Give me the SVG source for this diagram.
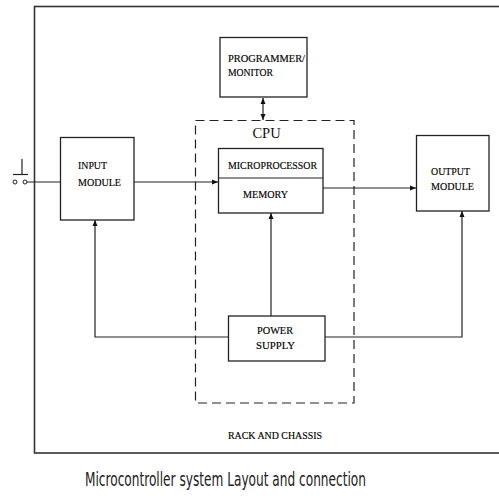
<svg xmlns="http://www.w3.org/2000/svg" width="499" height="496" viewBox="0 0 499 496">
<style>
.box{fill:#fff;stroke:#222;stroke-width:1.3}
.ln{fill:none;stroke:#222;stroke-width:1.2}
.t{font-family:"Liberation Serif","Times New Roman",serif;font-size:9.5px;fill:#000;stroke:#000;stroke-width:0.15}
</style>
<defs>
<marker id="ah" viewBox="0 0 6 6" refX="6" refY="3" markerWidth="6" markerHeight="6" markerUnits="userSpaceOnUse" orient="auto-start-reverse">
<path d="M0,0.5 L6,3 L0,5.5 Z" fill="#111"/>
</marker>
</defs>
<rect width="499" height="496" fill="#fff"/>
<rect id="frame" x="34.5" y="6.5" width="480" height="446.5" fill="none" stroke="#333" stroke-width="1.6"/>
<g id="cpu">
<rect x="195.5" y="120.5" width="158.5" height="282.5" fill="none" stroke="#222" stroke-width="1.2" stroke-dasharray="9,5"/>
<text x="266.5" y="138" font-family="Liberation Serif, serif" font-size="14.5" fill="#111" text-anchor="middle">CPU</text>
</g>
<g id="connectors">
<line class="ln" x1="27" y1="182" x2="60" y2="182"/>
<line class="ln" x1="134" y1="182" x2="218" y2="182" marker-end="url(#ah)"/>
<line class="ln" x1="323" y1="188" x2="416" y2="188" marker-end="url(#ah)"/>
<line class="ln" x1="263" y1="98" x2="263" y2="120" marker-start="url(#ah)" marker-end="url(#ah)"/>
<polyline class="ln" points="228,337 95,337 95,220" marker-end="url(#ah)"/>
<line class="ln" x1="271" y1="316" x2="271" y2="213" marker-end="url(#ah)"/>
<polyline class="ln" points="325,337 462,337 462,211" marker-end="url(#ah)"/>
</g>
<g id="switch">
<circle cx="15" cy="182" r="2" fill="#fff" stroke="#222" stroke-width="1"/>
<circle cx="25" cy="182" r="2" fill="#fff" stroke="#222" stroke-width="1"/>
<line class="ln" x1="13" y1="174.5" x2="28" y2="174.5"/>
<line class="ln" x1="22" y1="159" x2="22" y2="174.5"/>
</g>
<g id="programmer">
<rect class="box" x="220" y="37.5" width="87" height="59.5"/>
<text class="t" x="228" y="62" textLength="77" lengthAdjust="spacingAndGlyphs">PROGRAMMER/</text>
<text class="t" x="228" y="75.5" textLength="45" lengthAdjust="spacingAndGlyphs">MONITOR</text>
</g>
<g id="input">
<rect class="box" x="60.5" y="137.5" width="73.5" height="82.5"/>
<text class="t" x="78" y="169" textLength="29" lengthAdjust="spacingAndGlyphs">INPUT</text>
<text class="t" x="78" y="186" textLength="43" lengthAdjust="spacingAndGlyphs">MODULE</text>
</g>
<g id="micro">
<rect class="box" x="218.5" y="148.5" width="104.5" height="64.5"/>
<line class="ln" x1="218.5" y1="178" x2="323" y2="178"/>
<text class="t" x="228" y="169" textLength="89" lengthAdjust="spacingAndGlyphs">MICROPROCESSOR</text>
<text class="t" x="243" y="198" textLength="45" lengthAdjust="spacingAndGlyphs">MEMORY</text>
</g>
<g id="output">
<rect class="box" x="416.5" y="135.5" width="72.5" height="75.5"/>
<text class="t" x="431" y="175" textLength="39" lengthAdjust="spacingAndGlyphs">OUTPUT</text>
<text class="t" x="431" y="190" textLength="43" lengthAdjust="spacingAndGlyphs">MODULE</text>
</g>
<g id="power">
<rect class="box" x="228.5" y="316" width="96.5" height="45"/>
<text class="t" x="257" y="334" textLength="36" lengthAdjust="spacingAndGlyphs">POWER</text>
<text class="t" x="256" y="349" textLength="39" lengthAdjust="spacingAndGlyphs">SUPPLY</text>
</g>
<text class="t" x="228" y="439" textLength="94" lengthAdjust="spacingAndGlyphs">RACK AND CHASSIS</text>
<text transform="translate(85,486) scale(1,1.55)" x="0" y="0" font-family="DejaVu Sans Condensed, DejaVu Sans, sans-serif" font-size="13" fill="#222" textLength="281" lengthAdjust="spacingAndGlyphs">Microcontroller system Layout and connection</text>
</svg>
